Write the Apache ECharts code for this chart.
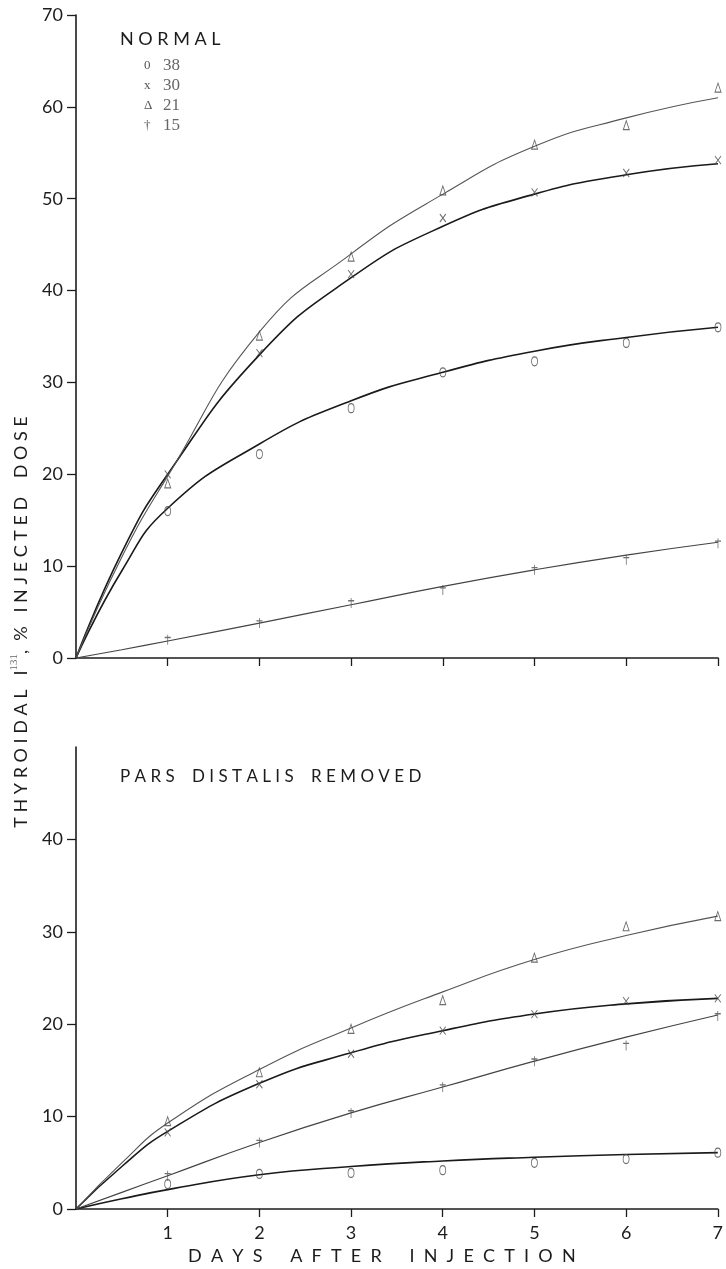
<!DOCTYPE html>
<html>
<head>
<meta charset="utf-8">
<title>Thyroidal I131 uptake</title>
<script src="https://cdn.jsdelivr.net/npm/echarts@6/dist/echarts.min.js"></script>
<style>
  html, body { margin: 0; padding: 0; background: #fff; }
  #chart { width: 726px; height: 1269px; }
</style>
</head>
<body>
<div id="chart"></div>
<script>
// Observation days
const days = [1, 2, 3, 4, 5, 6, 7];
// Day positions used for the fitted curves
const curveDays = [0, 0.5, 1, 2, 3, 4, 5, 6, 7];

// Group labels (number of animals)
const groupNames = ['38', '30', '21', '15'];

// NORMAL: observed uptake (% of injected dose)
const normal38 = [16, 22.2, 27.2, 31.1, 32.3, 34.3, 36.0];
const normal30 = [20, 33.2, 41.8, 47.9, 50.7, 52.8, 54.2];
const normal21 = [19, 35.1, 43.7, 50.9, 55.9, 58.0, 62.1];
const normal15 = [2, 3.8, 6.0, 7.4, 9.6, 10.7, 12.5];

// NORMAL: fitted curves
const normalFit38 = [0, 9.5, 16.3, 23.3, 28.0, 31.1, 33.4, 34.9, 36.0];
const normalFit30 = [0, 11.5, 20.0, 33.0, 41.4, 47.0, 50.5, 52.6, 53.8];
const normalFit21 = [0, 11.0, 19.8, 35.5, 44.0, 50.5, 55.7, 58.8, 61.0];
const normalFit15 = [0, 0.9, 1.85, 3.8, 5.8, 7.8, 9.6, 11.2, 12.6];

// PARS DISTALIS REMOVED: observed uptake
const removed38 = [2.7, 3.8, 3.9, 4.2, 5.0, 5.4, 6.1];
const removed30 = [8.3, 13.5, 16.8, 19.3, 21.1, 22.5, 22.8];
const removed21 = [9.5, 14.8, 19.5, 22.6, 27.2, 30.6, 31.7];
const removed15 = [3.6, 7.2, 10.4, 13.2, 16.0, 17.7, 20.9];

// PARS DISTALIS REMOVED: fitted curves
const removedFit38 = [0, 1.1, 2.1, 3.7, 4.6, 5.2, 5.6, 5.9, 6.1];
const removedFit30 = [0, 4.6, 8.4, 13.6, 16.9, 19.3, 21.1, 22.2, 22.8];
const removedFit21 = [0, 5.0, 9.3, 15.1, 19.6, 23.5, 27.0, 29.6, 31.7];
const removedFit15 = [0, 1.8, 3.6, 7.2, 10.4, 13.2, 16.0, 18.6, 21.0];

// Axis ticks
const topYTicks = [0, 10, 20, 30, 40, 50, 60, 70];
const bottomYTicks = [0, 10, 20, 30, 40];
const xTicks = [1, 2, 3, 4, 5, 6, 7];

const SANS = 'Lato, "Open Sans", sans-serif';
const SERIF = '"Liberation Serif", "DejaVu Serif", serif';
const INK = '#1c1c1c';

// Spread letters apart the way the lettering is set
const spaced = (s, gap, wordGap) =>
  s.split(' ').map(w => w.split('').join(gap)).join(wordGap);

// Point marker shapes: oval, cross, triangle, dagger
const markers = {
  '38': 'path://M5,0 C8,0 10,3 10,7 C10,11 8,14 5,14 C2,14 0,11 0,7 C0,3 2,0 5,0 Z',
  '30': 'path://M0,0 L10,14 M10,0 L0,14',
  '21': 'path://M5,0 L10,14 L0,14 Z',
  '15': 'path://M5,0 L5,14 M0,4 L10,4'
};
const markerSize = { '38': [6, 9], '30': [6, 8], '21': [6, 9], '15': [6, 10] };
const legendGlyph = { '38': '0', '30': 'x', '21': '\u0394', '15': '\u2020' };

// Curve weights: the 38 and 30 curves are inked heavier
const lineStyleOf = {
  '38': { color: '#1a1a1a', width: 1.6 },
  '30': { color: '#1a1a1a', width: 1.6 },
  '21': { color: '#555', width: 1.1 },
  '15': { color: '#444', width: 1.2 }
};

const pairs = (xs, ys) => xs.map((x, i) => [x, ys[i]]);

function curve(name, gridIdx, xs, ys) {
  return {
    type: 'line',
    name: name,
    xAxisIndex: gridIdx,
    yAxisIndex: gridIdx,
    data: pairs(xs, ys),
    smooth: 0.5,
    showSymbol: false,
    symbol: 'none',
    silent: true,
    lineStyle: lineStyleOf[name],
    z: 2
  };
}

function points(name, gridIdx, ys) {
  return {
    type: 'scatter',
    name: name,
    xAxisIndex: gridIdx,
    yAxisIndex: gridIdx,
    data: pairs(days, ys),
    symbol: markers[name],
    symbolSize: markerSize[name],
    itemStyle: { color: 'transparent', borderColor: '#4a4a4a', borderWidth: 1 },
    z: 3
  };
}

const xAxisBase = {
  type: 'value',
  min: 0,
  max: 7,
  interval: 1,
  axisLine: { show: true, onZero: false, lineStyle: { color: INK, width: 1.6 } },
  axisTick: { show: true, inside: false, length: 8, customValues: xTicks,
              lineStyle: { color: INK, width: 1.3 } },
  splitLine: { show: false }
};

const yAxisBase = {
  type: 'value',
  min: 0,
  interval: 10,
  axisLine: { show: true, onZero: false, lineStyle: { color: INK, width: 1.6 } },
  axisTick: { show: true, inside: false, length: 9, lineStyle: { color: INK, width: 1.3 } },
  axisLabel: { color: INK, fontFamily: SANS, fontSize: 18, margin: 13 },
  splitLine: { show: false }
};

const chart = echarts.init(document.getElementById('chart'), null, { renderer: 'canvas' });

const legendRows = groupNames.map((g, i) => ({
  type: 'group',
  left: 144,
  top: 57 + i * 20,
  children: [
    { type: 'text', x: 0, y: 0,
      style: { text: legendGlyph[g], font: '13px ' + SERIF, fill: '#555' } },
    { type: 'text', x: 19, y: -2,
      style: { text: g, font: '17px ' + SERIF, fill: '#666' } }
  ]
}));

chart.setOption({
  animation: false,
  backgroundColor: '#ffffff',
  grid: [
    { left: 76, top: 15, width: 642, height: 643 },
    { left: 76, top: 747, width: 642, height: 462 }
  ],
  xAxis: [
    Object.assign({}, xAxisBase, { gridIndex: 0, axisLabel: { show: false } }),
    Object.assign({}, xAxisBase, {
      gridIndex: 1,
      axisLabel: { show: true, customValues: xTicks, color: INK, fontFamily: SANS,
                   fontSize: 18, margin: 15 },
      name: spaced('DAYS AFTER INJECTION', '  ', '      '),
      nameLocation: 'middle',
      nameGap: 38,
      nameTextStyle: { color: INK, fontFamily: SANS, fontSize: 18, padding: [0, 30, 0, 0] }
    })
  ],
  yAxis: [
    Object.assign({}, yAxisBase, { gridIndex: 0, max: 70,
      axisLabel: Object.assign({}, yAxisBase.axisLabel, { customValues: topYTicks }),
      axisTick: Object.assign({}, yAxisBase.axisTick, { customValues: topYTicks }) }),
    Object.assign({}, yAxisBase, { gridIndex: 1, max: 50,
      axisLabel: Object.assign({}, yAxisBase.axisLabel, { customValues: bottomYTicks }),
      axisTick: Object.assign({}, yAxisBase.axisTick, { customValues: bottomYTicks }) })
  ],
  graphic: [
    // Shared vertical axis title
    {
      type: 'text',
      x: 21,
      y: 622,
      rotation: Math.PI / 2,
      style: {
        text: '{t|' + spaced('THYROIDAL', ' ', '') + '   I}{s|131}{t|,  %   ' +
              spaced('INJECTED DOSE', ' ', '    ') + '}',
        align: 'center',
        verticalAlign: 'middle',
        rich: {
          t: { fontFamily: SANS, fontSize: 18, fill: INK, lineHeight: 24 },
          s: { fontFamily: SERIF, fontSize: 11, fill: '#666', verticalAlign: 'top', lineHeight: 24 }
        }
      }
    },
    // Panel titles
    { type: 'text', left: 120, top: 30,
      style: { text: spaced('NORMAL', ' ', ''), font: '18px ' + SANS, fill: INK } },
    { type: 'text', left: 120, top: 768,
      style: { text: spaced('PARS DISTALIS REMOVED', ' ', '    '), font: '17px ' + SANS, fill: INK } }
  ].concat(legendRows),
  series: [
    curve('38', 0, curveDays, normalFit38),
    curve('30', 0, curveDays, normalFit30),
    curve('21', 0, curveDays, normalFit21),
    curve('15', 0, curveDays, normalFit15),
    points('38', 0, normal38),
    points('30', 0, normal30),
    points('21', 0, normal21),
    points('15', 0, normal15),
    curve('38', 1, curveDays, removedFit38),
    curve('30', 1, curveDays, removedFit30),
    curve('21', 1, curveDays, removedFit21),
    curve('15', 1, curveDays, removedFit15),
    points('38', 1, removed38),
    points('30', 1, removed30),
    points('21', 1, removed21),
    points('15', 1, removed15)
  ]
});
</script>
</body>
</html>
